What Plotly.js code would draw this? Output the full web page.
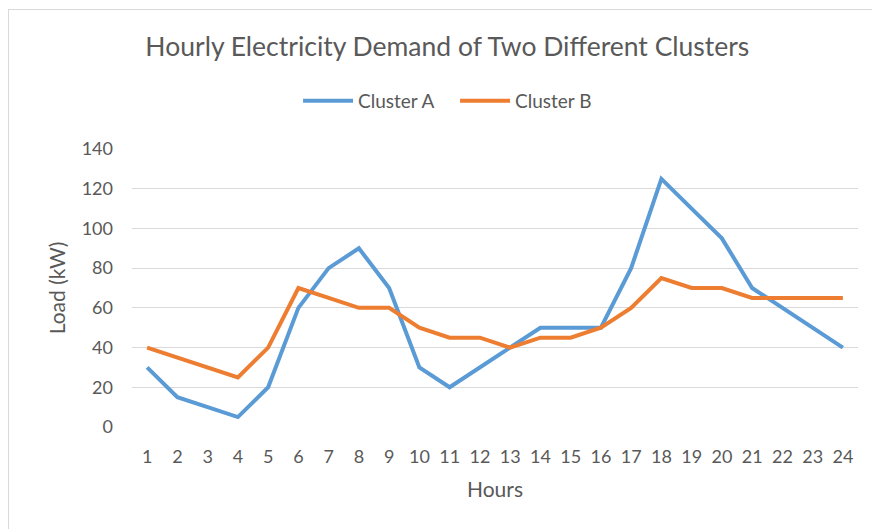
<!DOCTYPE html>
<html><head><meta charset="utf-8">
<script src="https://cdn.plot.ly/plotly-3.0.1.min.js"></script>
<style>
html,body{margin:0;padding:0;background:#fff;}
#frame{position:absolute;left:8px;top:9px;width:880px;height:540px;border:1px solid #d9d9d9;}
#chart{position:absolute;left:0;top:0;width:872px;height:529px;}
</style></head>
<body>
<div id="frame"></div>
<div id="chart"></div>
<script>
const hours = ["1","2","3","4","5","6","7","8","9","10","11","12","13","14","15","16","17","18","19","20","21","22","23","24"];
const clusterA = [30,15,10,5,20,60,80,90,70,30,20,30,40,50,50,50,80,125,110,95,70,60,50,40];
const clusterB = [40,35,30,25,40,70,65,60,60,50,45,45,40,45,45,50,60,75,70,70,65,65,65,65];
const yTicks = [0,20,40,60,80,100,120,140];

const font = "Lato, 'Open Sans', sans-serif";
const grey = "#595959";
const traces = [
  {x: hours, y: clusterA, name: "Cluster A", type: "scatter", mode: "lines",
   line: {color: "#5b9bd5", width: 4}},
  {x: hours, y: clusterB, name: "Cluster B", type: "scatter", mode: "lines",
   line: {color: "#ed7d31", width: 4}}
];
const layout = {
  width: 872, height: 529,
  paper_bgcolor: "rgba(0,0,0,0)", plot_bgcolor: "rgba(0,0,0,0)",
  margin: {l: 132, r: 14, t: 149, b: 102},
  font: {family: font, color: grey, size: 18},
  title: {text: "Hourly Electricity Demand of Two Different Clusters",
          font: {family: font, size: 26.5, color: grey},
          x: 0.513, xanchor: "center", y: 0.911, yanchor: "middle"},
  showlegend: true,
  legend: {orientation: "h", x: 0.445, xanchor: "center", y: 1.173, yanchor: "middle",
           font: {family: font, size: 19, color: grey}, itemwidth: 50, tracegroupgap: 0,
           entrywidth: 92, entrywidthmode: "pixels"},
  xaxis: {type: "category", range: [-0.5, 23.5], showgrid: false, zeroline: false,
          showline: false, ticks: "", tickfont: {size: 18, color: grey}, ticklabelstandoff: 17,
          title: {text: "Hours", font: {size: 21, color: grey}, standoff: 16}},
  yaxis: {range: [0, 140], tickvals: yTicks, showgrid: true, gridcolor: "#d9d9d9",
          gridwidth: 1, zeroline: false, showline: false, ticks: "",
          tickfont: {size: 18, color: grey}, ticklabelstandoff: 18,
          title: {text: "Load (kW)", font: {size: 21, color: grey}, standoff: 10}}
};
Plotly.newPlot("chart", traces, layout, {displayModeBar: false, staticPlot: true});
</script>
</body></html>
